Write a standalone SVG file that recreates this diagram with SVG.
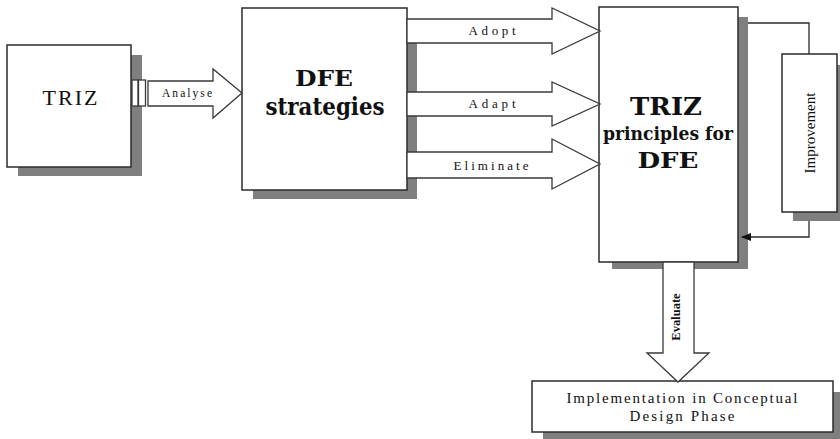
<svg xmlns="http://www.w3.org/2000/svg" width="840" height="439" viewBox="0 0 840 439">
<style>
.bg{fill:#ffffff}
.shadow{fill:#7f7f7f}
.box{fill:#ffffff;stroke:#2b2b2b;stroke-width:1.5}
.arrow{fill:#ffffff;stroke:#3a3a3a;stroke-width:1.3;stroke-linejoin:miter}
.line{fill:none;stroke:#2b2b2b;stroke-width:1.3}
text{font-family:"Liberation Serif","DejaVu Serif",serif;fill:#111;text-anchor:middle}
.lbl{font-size:13px}
.big{font-weight:bold;font-family:"DejaVu Serif",serif}
</style>
<defs>
<marker id="ah" markerWidth="10" markerHeight="8" refX="9" refY="4" orient="auto" markerUnits="userSpaceOnUse">
<path d="M0,0 L10,4 L0,8 Z" fill="#111"/>
</marker>
</defs>
<rect class="bg" x="0" y="0" width="840" height="439"/>

<g id="triz">
<rect class="shadow" x="18" y="55" width="124" height="121"/>
<rect class="box" x="7" y="45" width="124" height="122"/>
<text x="70" y="105" font-size="22" textLength="55" lengthAdjust="spacing">TRIZ</text>
</g>

<g id="dfe">
<rect class="shadow" x="253" y="19" width="164" height="180"/>
<rect class="box" x="242" y="8" width="165" height="182"/>
<text class="big" x="324" y="86" font-size="23" textLength="58" lengthAdjust="spacingAndGlyphs">DFE</text>
<text class="big" x="325" y="115" font-size="24" textLength="119" lengthAdjust="spacingAndGlyphs">strategies</text>
</g>

<g id="principles">
<rect class="shadow" x="612" y="17" width="136" height="252"/>
<rect class="box" x="599" y="7" width="139" height="255"/>
<text class="big" x="666" y="115" font-size="24" textLength="72" lengthAdjust="spacingAndGlyphs">TRIZ</text>
<text class="big" x="668" y="140" font-size="18" textLength="130" lengthAdjust="spacingAndGlyphs">principles for</text>
<text class="big" x="668" y="168" font-size="22" textLength="61" lengthAdjust="spacingAndGlyphs">DFE</text>
</g>

<g id="improvement">
<rect class="shadow" x="793" y="65" width="55" height="156"/>
<rect class="box" x="782" y="54" width="55" height="158"/>
<text x="810" y="133" font-size="15" transform="rotate(-90 810 133)" dy="5">Improvement</text>
</g>

<g id="implementation">
<rect class="shadow" x="543" y="392" width="305" height="50"/>
<rect class="box" x="532" y="381" width="301" height="51"/>
<text x="682" y="403" font-size="15" textLength="231" lengthAdjust="spacing">Implementation in Conceptual</text>
<text x="682" y="421" font-size="15" textLength="105" lengthAdjust="spacing">Design Phase</text>
</g>

<g id="connectors">
<rect class="arrow" x="132" y="80" width="6" height="26"/>
<rect class="arrow" x="138.5" y="80" width="7" height="26"/>
<polygon class="arrow" points="148,81 213,81 213,69 242,93 213,118 213,106 148,106"/>
<text x="187" y="97" font-size="11.5" textLength="50" lengthAdjust="spacing">Analyse</text>

<polygon class="arrow" points="407,19 552,19 552,8 600,31 552,54 552,43 407,43"/>
<text class="lbl" x="492" y="35" textLength="47" lengthAdjust="spacing">Adopt</text>
<polygon class="arrow" points="407,92 552,92 552,82 600,104 552,126 552,116 407,116"/>
<text class="lbl" x="492" y="108" textLength="47" lengthAdjust="spacing">Adapt</text>
<polygon class="arrow" points="407,152 552,152 552,139 600,164 552,189 552,178 407,178"/>
<text class="lbl" x="491" y="170" textLength="75" lengthAdjust="spacing">Eliminate</text>

<polygon class="arrow" points="663,262 694,262 694,353 709,353 678,382 647,353 663,353"/>
<text x="676" y="317" font-size="12.5" font-weight="bold" transform="rotate(-90 676 317)" dy="4">Evaluate</text>

<polyline class="line" points="748,23 809,23 809,54"/>
<polyline class="line" points="809,221 809,237 742,237" marker-end="url(#ah)"/>
</g>
</svg>
